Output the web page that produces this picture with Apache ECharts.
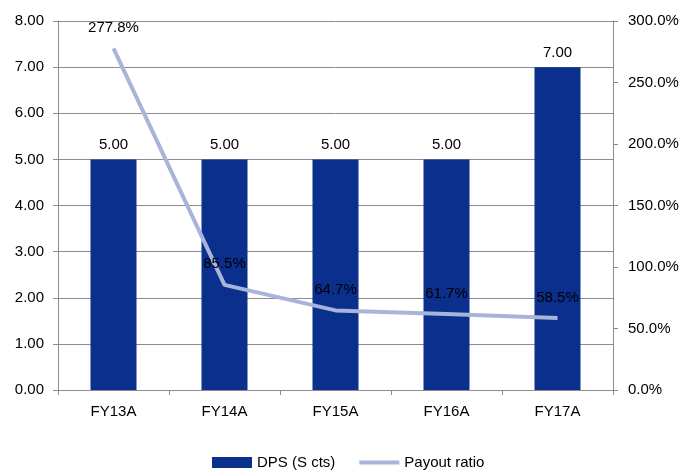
<!DOCTYPE html>
<html>
<head>
<meta charset="utf-8">
<script src="https://cdn.jsdelivr.net/npm/echarts@6/dist/echarts.min.js"></script>
<style>
  html, body { margin: 0; padding: 0; background: #fff; }
  #chart { width: 693px; height: 471px; }
</style>
</head>
<body>
<div id="chart"></div>
<script>
// Dividend per share and payout ratio by fiscal year
const categories = ['FY13A', 'FY14A', 'FY15A', 'FY16A', 'FY17A'];
const dps = [5.00, 5.00, 5.00, 5.00, 7.00];
const payoutRatio = [277.8, 85.5, 64.7, 61.7, 58.5];
const leftTicks = { min: 0, max: 8, interval: 1 };
const rightTicks = { min: 0, max: 300, interval: 50 };

const FONT = 'Liberation Sans, Arial, sans-serif';
const FS = 15;
const axisColor = '#8c8c8c';
const lineColor = '#A8B4DA';

const chart = echarts.init(document.getElementById('chart'));
chart.setOption({
  animation: false,
  textStyle: { fontFamily: FONT },
  grid: { left: 58, right: 80, top: 21, bottom: 81, containLabel: false },
  legend: {
    top: 455,
    left: 212,
    padding: 0,
    itemGap: 24,
    itemWidth: 40,
    itemHeight: 11,
    textStyle: { fontFamily: FONT, fontSize: FS, color: '#000' },
    data: [
      { name: 'DPS (S cts)', icon: 'rect' },
      { name: 'Payout ratio', icon: 'path://M0,0L40,0L40,4L0,4Z' }
    ]
  },
  xAxis: {
    type: 'category',
    data: categories,
    axisLine: { lineStyle: { color: axisColor, width: 1 } },
    axisTick: { show: true, alignWithLabel: false, length: 5, lineStyle: { color: axisColor } },
    axisLabel: { color: '#000', fontSize: FS, fontFamily: FONT, margin: 14 }
  },
  yAxis: [
    {
      type: 'value',
      min: leftTicks.min, max: leftTicks.max, interval: leftTicks.interval,
      axisLine: { show: true, lineStyle: { color: axisColor } },
      axisTick: { show: true, length: 5, lineStyle: { color: axisColor } },
      axisLabel: { color: '#000', fontSize: FS, fontFamily: FONT, margin: 14,
                   formatter: v => v.toFixed(2) },
      splitLine: { show: true, lineStyle: { color: '#8c8c8c', width: 1 } }
    },
    {
      type: 'value',
      min: rightTicks.min, max: rightTicks.max, interval: rightTicks.interval,
      position: 'right',
      axisLine: { show: true, lineStyle: { color: axisColor } },
      axisTick: { show: true, length: 5, lineStyle: { color: axisColor } },
      axisLabel: { color: '#000', fontSize: FS, fontFamily: FONT, margin: 15,
                   formatter: v => v.toFixed(1) + '%' },
      splitLine: { show: false }
    }
  ],
  series: [
    {
      name: 'DPS (S cts)',
      type: 'bar',
      yAxisIndex: 0,
      data: dps,
      barWidth: 46,
      itemStyle: { color: '#0A2F8C' },
      label: {
        show: true, position: 'top', distance: 7,
        color: '#000', fontSize: FS, fontFamily: FONT,
        formatter: p => p.value.toFixed(2)
      }
    },
    {
      name: 'Payout ratio',
      type: 'line',
      yAxisIndex: 1,
      data: payoutRatio,
      symbol: 'none',
      lineStyle: { color: lineColor, width: 4 },
      itemStyle: { color: lineColor },
      z: 3
    },
    {
      // value labels for the payout ratio line
      name: 'Payout ratio labels',
      type: 'scatter',
      yAxisIndex: 1,
      data: payoutRatio,
      symbolSize: 0,
      silent: true,
      itemStyle: { color: lineColor, opacity: 1 },
      label: {
        show: true, position: 'top', distance: 13,
        color: '#000', opacity: 1, textBorderWidth: 0,
        fontSize: FS, fontFamily: FONT,
        formatter: p => p.value.toFixed(1) + '%'
      },
      labelLayout: { hideOverlap: false },
      z: 4
    }
  ]
});
</script>
</body>
</html>
